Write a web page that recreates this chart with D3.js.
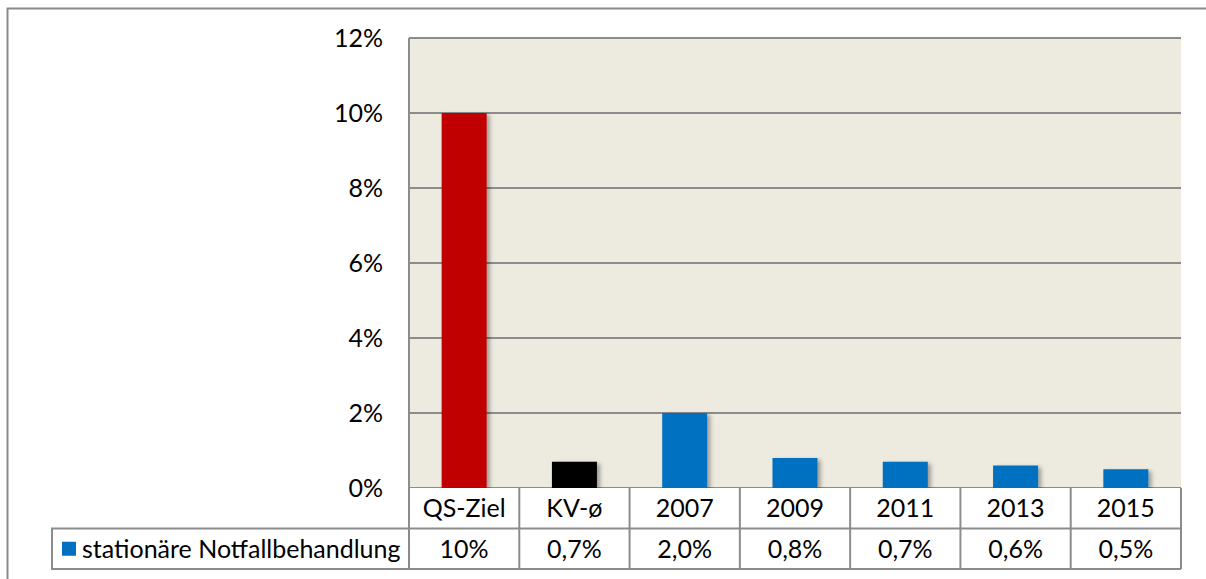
<!DOCTYPE html>
<meta charset="utf-8">
<style>
  body { margin: 0; background: #fff; }
  text { font-family: Lato, "Open Sans", sans-serif; font-size: 25px; fill: #000; }
</style>
<svg width="1206" height="579"></svg>
<script src="https://d3js.org/d3.v7.min.js"></script>
<script>

var categories = ["QS-Ziel", "KV-\u00f8", "2007", "2009", "2011", "2013", "2015"],
    values = [10, 0.7, 2.0, 0.8, 0.7, 0.6, 0.5],
    valueLabels = ["10%", "0,7%", "2,0%", "0,8%", "0,7%", "0,6%", "0,5%"],
    barColors = ["#c00000", "#000000", "#0070c0", "#0070c0", "#0070c0", "#0070c0", "#0070c0"],
    yTicks = [0, 2, 4, 6, 8, 10, 12],
    seriesName = "stationäre Notfallbehandlung";

var svg = d3.select("svg"),
    plotL = 409, plotR = 1181, plotT = 38, plotB = 488,
    rowH = 40.5;

var x = d3.scaleBand().domain(categories).range([plotL, plotR]).padding(0),
    y = d3.scaleLinear().domain([0, 12]).range([plotB, plotT]);

var defs = svg.append("defs");
defs.append("filter").attr("id", "shadow")
    .attr("x", "-20%").attr("y", "-20%").attr("width", "150%").attr("height", "150%")
  .append("feDropShadow")
    .attr("dx", 3).attr("dy", 2).attr("stdDeviation", 2)
    .attr("flood-color", "#000").attr("flood-opacity", 0.35);

// outer frame
svg.append("rect")
    .attr("x", 7.5).attr("y", 8.5).attr("width", 1220).attr("height", 600)
    .attr("fill", "none").attr("stroke", "#8a8a8a").attr("stroke-width", 2);

// plot background
svg.append("rect")
    .attr("x", plotL).attr("y", plotT).attr("width", plotR - plotL).attr("height", plotB - plotT)
    .attr("fill", "#edeae0");

// gridlines
svg.append("g").selectAll("line").data(yTicks).join("line")
    .attr("x1", plotL).attr("x2", plotR)
    .attr("y1", d => y(d)).attr("y2", d => y(d))
    .attr("stroke", "#8c8c8c").attr("stroke-width", 2);

svg.append("line")
    .attr("x1", plotL).attr("x2", plotL).attr("y1", plotT).attr("y2", plotB)
    .attr("stroke", "#8c8c8c").attr("stroke-width", 2);

// y labels
svg.append("g").selectAll("text").data(yTicks).join("text")
    .attr("x", 383).attr("y", d => y(d)).attr("dy", "0.35em")
    .attr("text-anchor", "end")
    .text(d => d + "%");

// bars
var bw = 45;
svg.append("g").selectAll("rect").data(values).join("rect")
    .attr("x", (d, i) => x(categories[i]) + x.bandwidth() / 2 - bw / 2)
    .attr("y", d => y(d))
    .attr("width", bw)
    .attr("height", d => plotB - y(d))
    .attr("fill", (d, i) => barColors[i])
    .attr("filter", "url(#shadow)");

// data table
var table = svg.append("g");
table.append("rect")
    .attr("x", plotL).attr("y", plotB).attr("width", plotR - plotL).attr("height", rowH * 2)
    .attr("fill", "#fff");
table.append("rect")
    .attr("x", 52).attr("y", plotB + rowH).attr("width", plotL - 52).attr("height", rowH)
    .attr("fill", "#fff").attr("stroke", "#8c8c8c").attr("stroke-width", 2);

table.selectAll("line.h").data([plotB + rowH, plotB + 2 * rowH]).join("line")
    .attr("x1", plotL).attr("x2", plotR).attr("y1", d => d).attr("y2", d => d)
    .attr("stroke", "#8c8c8c").attr("stroke-width", 2);

table.selectAll("line.v").data(categories.map(c => x(c)).concat([plotR])).join("line")
    .attr("x1", d => d).attr("x2", d => d)
    .attr("y1", plotB).attr("y2", plotB + 2 * rowH)
    .attr("stroke", "#8c8c8c").attr("stroke-width", 2);

table.selectAll("text.cat").data(categories).join("text")
    .attr("x", d => x(d) + x.bandwidth() / 2).attr("y", plotB + rowH / 2).attr("dy", "0.35em")
    .attr("text-anchor", "middle").text(d => d);

table.selectAll("text.val").data(valueLabels).join("text")
    .attr("x", (d, i) => x(categories[i]) + x.bandwidth() / 2).attr("y", plotB + rowH * 1.5).attr("dy", "0.35em")
    .attr("text-anchor", "middle").text(d => d);

table.append("rect")
    .attr("x", 62).attr("y", plotB + rowH * 1.5 - 7).attr("width", 14).attr("height", 14)
    .attr("fill", "#0070c0");
table.append("text")
    .attr("x", 82).attr("y", plotB + rowH * 1.5).attr("dy", "0.35em")
    .text(seriesName);

</script>
